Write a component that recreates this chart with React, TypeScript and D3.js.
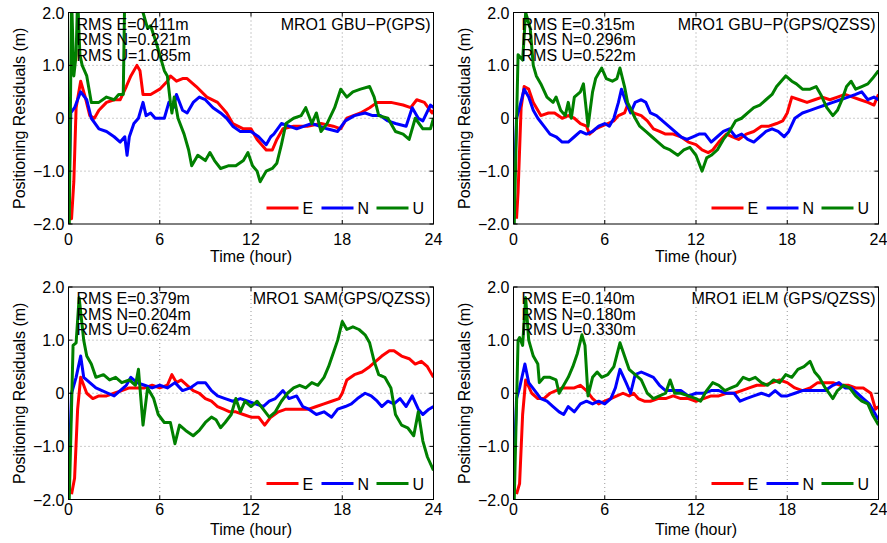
import React from 'react'
import * as d3 from 'd3'

type Pt = [number, number]

// axis ticks
const hourTicks = [0, 6, 12, 18, 24]
const residualTicks = [2, 1, 0, -1, -2]
const residualLabels = ['2.0', '1.0', '0', '\u22121.0', '\u22122.0']

const seriesNames = ['E', 'N', 'U']
const seriesColors = ['#ff0000', '#0000ff', '#008000']

// MRO1 GBU-P (GPS)
const gbuGpsE: Pt[] = [[0.1,-1.9],[0.2,-1.9],[0.35,-1.2],[0.5,0.2],[0.8,0.7],[1.1,0.4],[1.4,0.05],[1.7,0.0],[2.0,0.15],[2.5,0.3],[3.0,0.35],[3.4,0.35],[3.8,0.6],[4.1,0.8],[4.5,1.0],[4.7,0.9],[4.9,0.45],[5.4,0.45],[6.0,0.55],[6.5,0.7],[6.7,0.8],[7.1,0.7],[7.5,0.75],[7.8,0.75],[8.4,0.6],[9.1,0.4],[9.8,0.3],[10.4,0.1],[10.8,-0.1],[11.5,-0.2],[12.0,-0.2],[12.4,-0.4],[13.0,-0.6],[13.4,-0.6],[13.7,-0.4],[14.1,-0.2],[14.8,-0.15],[15.7,-0.15],[16.6,-0.1],[17.4,-0.15],[17.9,-0.2],[18.3,0.0],[19.2,0.1],[19.8,0.2],[20.3,0.3],[21.2,0.3],[22.0,0.25],[22.5,0.2],[22.9,0.35],[23.4,0.3],[23.9,0.1],[24,0.15]]
const gbuGpsN: Pt[] = [[0,-1.8],[0.15,0.1],[0.4,0.2],[0.8,0.5],[1.2,0.35],[1.5,0.0],[2.0,-0.2],[2.5,-0.25],[3.0,-0.35],[3.4,-0.45],[3.7,-0.35],[3.85,-0.7],[4.0,-0.35],[4.3,-0.1],[4.6,0.0],[4.9,0.3],[5.1,0.05],[5.4,0.1],[5.7,0.0],[6.0,0.0],[6.3,0.0],[6.6,0.3],[6.9,0.2],[7.1,0.45],[7.5,0.15],[7.8,0.1],[8.2,0.3],[8.6,0.4],[9.0,0.35],[9.5,0.2],[10.0,0.1],[10.4,0.0],[10.8,-0.15],[11.3,-0.25],[12.0,-0.25],[12.5,-0.35],[13.0,-0.5],[13.3,-0.35],[13.5,-0.3],[14.0,-0.1],[14.5,-0.15],[15.0,-0.2],[15.5,-0.15],[16.0,-0.1],[16.5,-0.15],[17.0,-0.2],[17.7,-0.25],[18.2,-0.05],[18.8,0.05],[19.5,0.1],[20.0,0.05],[20.5,0.05],[21.0,-0.05],[21.5,-0.1],[22.2,-0.15],[22.6,0.2],[23.0,0.0],[23.3,-0.05],[23.8,0.25],[24,0.2]]
const gbuGpsU: Pt[] = [[0.05,-2.0],[0.2,2.3],[0.35,0.8],[0.5,1.2],[0.6,2.3],[0.75,1.2],[0.9,1.0],[1.2,0.8],[1.5,0.3],[2.0,0.3],[2.5,0.4],[3.0,0.35],[3.3,0.45],[3.6,0.45],[3.7,2.4],[4.5,2.4],[4.9,2.0],[5.2,1.7],[5.4,1.75],[5.8,1.4],[6.0,1.2],[6.3,0.9],[6.5,0.8],[6.7,0.3],[6.8,0.1],[6.95,0.4],[7.2,0.0],[7.6,-0.3],[7.9,-0.6],[8.1,-0.9],[8.5,-0.7],[9.0,-0.8],[9.3,-0.65],[9.6,-0.8],[10.0,-0.95],[10.5,-0.9],[11.0,-0.9],[11.5,-0.8],[11.8,-0.65],[12.1,-0.9],[12.4,-1.0],[12.6,-1.2],[13.0,-1.0],[13.4,-0.95],[13.7,-0.85],[14.0,-0.5],[14.3,-0.1],[14.8,0.0],[15.3,0.05],[15.6,0.2],[16.0,-0.1],[16.3,0.1],[16.6,-0.25],[17.0,-0.1],[17.5,0.2],[17.9,0.55],[18.3,0.4],[18.7,0.5],[19.2,0.55],[19.8,0.6],[20.1,0.4],[20.4,0.05],[21.0,0.0],[21.5,-0.25],[22.0,-0.3],[22.4,-0.4],[22.8,0.0],[23.3,-0.2],[23.8,-0.2],[24,0.0]]

// MRO1 GBU-P (GPS/QZSS)
const gbuQzssE: Pt[] = [[0.2,-1.9],[0.3,-1.4],[0.5,0.2],[0.7,0.6],[1.0,0.55],[1.3,0.3],[1.8,0.05],[2.3,0.1],[2.7,0.1],[3.2,0.0],[3.6,0.05],[4.0,0.0],[4.4,-0.1],[4.8,-0.15],[5.0,-0.3],[5.4,-0.2],[5.8,-0.15],[6.2,-0.1],[6.6,-0.05],[6.9,0.05],[7.3,0.1],[7.5,0.25],[7.9,0.1],[8.4,0.05],[8.8,-0.05],[9.2,-0.2],[9.6,-0.25],[10.0,-0.3],[10.5,-0.3],[11.0,-0.35],[11.5,-0.45],[12.0,-0.5],[12.4,-0.6],[12.8,-0.65],[13.1,-0.6],[13.5,-0.45],[14.0,-0.3],[14.4,-0.35],[14.8,-0.4],[15.3,-0.3],[15.8,-0.25],[16.3,-0.15],[16.8,-0.15],[17.3,-0.1],[17.7,-0.05],[18.0,0.1],[18.3,0.4],[18.8,0.35],[19.3,0.3],[19.8,0.35],[20.3,0.4],[20.8,0.35],[21.3,0.4],[21.8,0.45],[22.3,0.4],[22.8,0.35],[23.3,0.3],[23.7,0.25],[24,0.45]]
const gbuQzssN: Pt[] = [[0,-1.7],[0.2,0.0],[0.4,0.2],[0.7,0.55],[1.0,0.4],[1.3,0.15],[1.6,0.0],[2.0,-0.15],[2.4,-0.3],[2.8,-0.35],[3.2,-0.45],[3.6,-0.45],[4.0,-0.35],[4.4,-0.25],[4.8,-0.3],[5.2,-0.25],[5.6,-0.15],[6.0,-0.1],[6.3,-0.15],[6.6,0.0],[6.9,0.3],[7.1,0.55],[7.4,0.3],[7.7,0.1],[8.0,0.3],[8.4,0.35],[8.7,0.3],[9.0,0.1],[9.4,0.05],[9.8,-0.05],[10.2,-0.15],[10.6,-0.25],[11.0,-0.35],[11.4,-0.4],[11.8,-0.35],[12.2,-0.3],[12.6,-0.3],[13.0,-0.45],[13.4,-0.35],[13.8,-0.25],[14.2,-0.2],[14.6,-0.35],[15.0,-0.3],[15.4,-0.4],[15.8,-0.45],[16.2,-0.35],[16.6,-0.25],[17.0,-0.2],[17.4,-0.25],[17.8,-0.35],[18.1,-0.25],[18.5,0.0],[19.0,0.1],[19.5,0.15],[20.0,0.2],[20.5,0.25],[21.0,0.3],[21.5,0.35],[22.0,0.4],[22.5,0.45],[22.9,0.5],[23.3,0.35],[23.7,0.4],[24,0.35]]
const gbuQzssU: Pt[] = [[0.05,-2.0],[0.3,1.2],[0.6,1.1],[0.8,2.0],[1.1,1.7],[1.3,1.0],[1.5,0.8],[1.8,0.65],[2.2,0.4],[2.6,0.3],[2.8,0.4],[3.1,0.15],[3.4,0.05],[3.6,0.3],[3.8,0.0],[4.0,0.4],[4.4,0.5],[4.6,0.65],[4.9,-0.15],[5.2,0.5],[5.4,0.75],[5.8,0.95],[6.1,0.75],[6.5,0.7],[6.8,0.75],[7.0,0.95],[7.3,0.6],[7.5,0.3],[8.0,0.0],[8.3,-0.15],[8.7,-0.25],[9.1,-0.35],[9.5,-0.45],[9.9,-0.55],[10.3,-0.6],[10.8,-0.7],[11.2,-0.6],[11.6,-0.55],[12.0,-0.7],[12.2,-0.85],[12.4,-1.0],[12.7,-0.75],[13.0,-0.7],[13.4,-0.6],[13.8,-0.4],[14.2,-0.25],[14.6,-0.05],[15.0,0.0],[15.4,0.1],[15.8,0.2],[16.2,0.25],[16.6,0.35],[17.0,0.45],[17.3,0.6],[17.6,0.7],[17.9,0.8],[18.3,0.7],[18.6,0.65],[19.0,0.55],[19.5,0.55],[19.9,0.6],[20.2,0.45],[20.6,0.2],[21.0,0.05],[21.3,0.15],[21.6,0.35],[21.9,0.6],[22.2,0.7],[22.5,0.55],[22.9,0.6],[23.3,0.65],[23.6,0.75],[24,0.9]]

// MRO1 SAM (GPS/QZSS)
const samE: Pt[] = [[0.2,-1.9],[0.4,-1.6],[0.6,-0.3],[0.8,0.3],[1.2,0.0],[1.6,-0.1],[2.0,-0.05],[2.5,-0.05],[3.0,0.0],[3.5,0.05],[4.0,0.1],[4.5,0.1],[5.0,0.1],[5.5,0.15],[6.0,0.1],[6.5,0.15],[6.8,0.35],[7.1,0.2],[7.4,0.25],[7.8,0.15],[8.2,0.05],[8.6,0.0],[9.0,-0.1],[9.4,-0.15],[9.8,-0.25],[10.2,-0.3],[10.6,-0.35],[11.0,-0.35],[11.5,-0.4],[12.0,-0.45],[12.5,-0.45],[12.9,-0.6],[13.3,-0.45],[13.8,-0.35],[14.3,-0.3],[14.8,-0.3],[15.3,-0.3],[15.8,-0.3],[16.3,-0.25],[16.8,-0.2],[17.3,-0.15],[17.8,-0.1],[18.0,0.0],[18.3,0.25],[18.8,0.35],[19.3,0.4],[19.8,0.5],[20.2,0.6],[20.6,0.7],[21.1,0.8],[21.4,0.8],[21.9,0.7],[22.4,0.65],[22.8,0.55],[23.2,0.6],[23.6,0.5],[24,0.3]]
const samN: Pt[] = [[0,-1.7],[0.2,0.0],[0.5,0.3],[0.8,0.7],[1.0,0.3],[1.4,0.2],[1.8,0.1],[2.2,0.05],[2.6,0.0],[3.0,-0.05],[3.4,0.05],[3.8,0.15],[4.1,0.3],[4.5,0.2],[5.0,0.15],[5.5,0.1],[6.0,0.15],[6.5,0.1],[7.0,0.2],[7.5,0.05],[8.0,0.1],[8.5,0.2],[9.0,0.2],[9.4,0.05],[9.8,-0.05],[10.3,-0.1],[10.8,-0.15],[11.3,-0.1],[11.8,-0.15],[12.3,-0.2],[12.8,-0.25],[13.2,-0.15],[13.6,-0.1],[14.1,0.05],[14.5,-0.1],[15.0,-0.05],[15.4,-0.25],[15.8,-0.3],[16.3,-0.4],[16.8,-0.35],[17.3,-0.45],[17.7,-0.3],[18.2,-0.25],[18.6,-0.2],[19.0,-0.1],[19.5,0.0],[19.9,-0.05],[20.3,-0.15],[20.6,-0.25],[21.0,-0.15],[21.4,-0.2],[21.8,-0.1],[22.2,-0.25],[22.6,-0.05],[23.0,-0.3],[23.3,-0.4],[23.7,-0.3],[24,-0.25]]
const samU: Pt[] = [[0.05,-2.0],[0.3,0.9],[0.5,0.95],[0.7,1.8],[1.0,1.0],[1.2,0.7],[1.5,0.55],[1.8,0.3],[2.3,0.35],[2.7,0.25],[3.1,0.3],[3.5,0.2],[4.0,0.25],[4.4,0.15],[4.6,0.45],[4.9,-0.6],[5.2,0.1],[5.6,-0.1],[5.9,-0.4],[6.3,-0.55],[6.7,-0.55],[7.0,-0.95],[7.3,-0.6],[7.7,-0.7],[8.2,-0.8],[8.6,-0.7],[9.0,-0.55],[9.4,-0.45],[9.7,-0.5],[10.0,-0.65],[10.3,-0.55],[10.7,-0.4],[11.0,-0.1],[11.3,-0.35],[11.6,-0.15],[12.0,-0.25],[12.4,-0.15],[12.8,-0.3],[13.2,-0.45],[13.6,-0.35],[14.0,-0.15],[14.4,0.0],[14.8,0.1],[15.2,0.15],[15.6,0.1],[16.0,0.2],[16.4,0.15],[16.8,0.3],[17.1,0.5],[17.4,0.75],[17.7,1.0],[18.0,1.35],[18.3,1.2],[18.7,1.25],[19.1,1.2],[19.5,1.1],[19.8,0.95],[20.1,0.6],[20.4,0.35],[20.8,0.3],[21.2,0.1],[21.5,-0.4],[21.9,-0.6],[22.3,-0.65],[22.7,-0.8],[23.0,-0.35],[23.3,-0.9],[23.6,-1.2],[24,-1.45]]

// MRO1 iELM (GPS/QZSS)
const ielmE: Pt[] = [[0.2,-1.9],[0.4,-1.7],[0.6,-0.4],[0.8,0.25],[1.2,0.0],[1.6,-0.1],[2.0,-0.1],[2.4,0.0],[2.8,0.05],[3.2,0.1],[3.6,0.1],[4.0,0.1],[4.4,0.15],[4.8,0.05],[5.2,-0.1],[5.6,-0.2],[6.0,-0.15],[6.4,-0.1],[6.8,-0.05],[7.2,0.0],[7.6,-0.05],[7.9,0.0],[8.2,-0.1],[8.6,-0.15],[9.0,-0.15],[9.5,-0.1],[10.0,-0.1],[10.5,-0.05],[11.0,-0.1],[11.5,-0.1],[12.0,-0.15],[12.5,-0.1],[13.0,-0.05],[13.5,-0.05],[14.0,0.0],[14.5,0.0],[15.0,0.05],[15.5,0.1],[16.0,0.15],[16.5,0.15],[17.0,0.2],[17.5,0.25],[18.0,0.2],[18.5,0.1],[19.0,0.05],[19.5,0.1],[20.0,0.2],[20.5,0.2],[21.0,0.2],[21.5,0.15],[22.0,0.15],[22.5,0.1],[23.0,0.1],[23.5,0.0],[23.8,-0.3],[24,-0.25]]
const ielmN: Pt[] = [[0,-1.7],[0.2,-0.1],[0.4,0.1],[0.75,0.55],[1.0,0.2],[1.4,0.05],[1.8,-0.1],[2.2,-0.15],[2.6,-0.25],[3.0,-0.35],[3.3,-0.4],[3.6,-0.25],[4.0,-0.35],[4.4,-0.2],[4.8,-0.15],[5.2,-0.2],[5.6,-0.15],[6.0,-0.2],[6.4,-0.1],[6.7,0.1],[7.0,0.45],[7.4,0.2],[7.7,0.0],[8.0,0.35],[8.4,0.4],[8.8,0.35],[9.2,0.3],[9.6,0.15],[10.0,0.05],[10.5,0.05],[11.0,0.05],[11.5,-0.05],[12.0,0.0],[12.5,0.0],[13.0,0.05],[13.5,0.05],[14.0,0.0],[14.5,0.0],[14.9,-0.15],[15.3,-0.1],[15.8,-0.05],[16.3,0.0],[16.8,-0.05],[17.2,0.05],[17.6,-0.05],[18.0,-0.05],[18.5,0.0],[19.0,0.05],[19.5,0.05],[20.0,0.05],[20.5,0.05],[21.0,0.15],[21.4,0.2],[21.8,0.1],[22.2,0.1],[22.6,0.0],[23.0,-0.1],[23.4,-0.2],[23.7,-0.35],[24,-0.5]]
const ielmU: Pt[] = [[0.05,-2.0],[0.3,1.0],[0.4,1.05],[0.6,0.9],[0.8,1.8],[1.0,1.0],[1.3,0.7],[1.6,0.55],[1.7,0.2],[2.0,0.3],[2.4,0.3],[2.8,0.25],[3.0,0.0],[3.3,0.15],[3.6,0.3],[3.9,0.5],[4.2,0.75],[4.5,1.1],[4.7,0.9],[4.9,-0.05],[5.2,0.3],[5.5,0.4],[5.8,0.3],[6.2,0.35],[6.6,0.5],[7.0,0.95],[7.3,0.7],[7.6,0.45],[8.0,0.35],[8.4,0.25],[8.8,0.0],[9.2,-0.1],[9.6,-0.05],[10.0,0.0],[10.3,0.25],[10.6,0.0],[11.0,0.0],[11.5,-0.05],[12.0,-0.1],[12.3,-0.15],[12.7,0.05],[13.1,0.2],[13.5,0.15],[13.9,0.05],[14.3,0.1],[14.7,0.15],[15.1,0.3],[15.5,0.25],[15.9,0.3],[16.3,0.2],[16.7,0.15],[17.1,0.25],[17.5,0.2],[17.9,0.35],[18.3,0.3],[18.7,0.45],[19.1,0.5],[19.5,0.6],[19.8,0.4],[20.1,0.3],[20.5,0.1],[21.0,-0.1],[21.3,0.05],[21.7,0.15],[22.1,0.1],[22.5,-0.05],[22.9,-0.15],[23.3,-0.2],[23.6,-0.4],[24,-0.6]]

const panelTitles = ['MRO1 GBU\u2212P(GPS)', 'MRO1 GBU\u2212P(GPS/QZSS)', 'MRO1 SAM(GPS/QZSS)', 'MRO1 iELM (GPS/QZSS)']
const rmsValues = [
  ['0.411', '0.221', '1.085'],
  ['0.315', '0.296', '0.522'],
  ['0.379', '0.204', '0.624'],
  ['0.140', '0.180', '0.330'],
]
const panelSeries: Pt[][][] = [
  [gbuGpsE, gbuGpsN, gbuGpsU],
  [gbuQzssE, gbuQzssN, gbuQzssU],
  [samE, samN, samU],
  [ielmE, ielmN, ielmU],
]

// plot frames: left, right, top, bottom, tick label baseline, x title baseline
const frames = [
  { l: 68.5, r: 433.5, t: 12.5, b: 224, tickY: 245, titleY: 262 },
  { l: 513.5, r: 878.5, t: 12.5, b: 224, tickY: 245, titleY: 262 },
  { l: 68.5, r: 433.5, t: 287, b: 499.5, tickY: 515, titleY: 535 },
  { l: 513.5, r: 878.5, t: 287, b: 499.5, tickY: 515, titleY: 535 },
]

const FONT = 'Liberation Sans, Arial, Helvetica, sans-serif'

function Panel({ idx }: { idx: number }) {
  const f = frames[idx]
  const x = d3.scaleLinear().domain([0, 24]).range([f.l, f.r])
  const y = d3.scaleLinear().domain([-2, 2]).range([f.b, f.t])
  const line = d3.line<Pt>().x(d => x(d[0])).y(d => y(d[1]))
  const clipId = `clip${idx}`
  const legendY = f.b - 16
  const legendStarts = [f.l + 198, f.l + 253, f.l + 308]

  return (
    <g fontFamily={FONT} fontSize={16} fill="#000">
      <defs>
        <clipPath id={clipId}>
          <rect x={f.l} y={f.t} width={f.r - f.l} height={f.b - f.t} />
        </clipPath>
      </defs>
      {/* grid */}
      {hourTicks.slice(1, -1).map(h => (
        <line key={'gx' + h} x1={x(h)} x2={x(h)} y1={f.t} y2={f.b} stroke="#999" strokeDasharray="1,3" />
      ))}
      {residualTicks.slice(1, -1).map(v => (
        <line key={'gy' + v} x1={f.l} x2={f.r} y1={y(v)} y2={y(v)} stroke="#999" strokeDasharray="1,3" />
      ))}
      {/* series */}
      <g clipPath={`url(#${clipId})`}>
        {panelSeries[idx].map((s, i) => (
          <path key={i} d={line(s) || ''} fill="none" stroke={seriesColors[i]} strokeWidth={3} strokeLinejoin="round" />
        ))}
      </g>
      {/* box + ticks */}
      <rect x={f.l} y={f.t} width={f.r - f.l} height={f.b - f.t} fill="none" stroke="#000" strokeWidth={1} />
      {hourTicks.map(h => (
        <g key={'tx' + h}>
          <line x1={x(h)} x2={x(h)} y1={f.b} y2={f.b - 4} stroke="#000" />
          <line x1={x(h)} x2={x(h)} y1={f.t} y2={f.t + 4} stroke="#000" />
          <text x={x(h)} y={f.tickY} textAnchor="middle">{h}</text>
        </g>
      ))}
      {residualTicks.map((v, i) => (
        <g key={'ty' + v}>
          <line x1={f.l} x2={f.l + 4} y1={y(v)} y2={y(v)} stroke="#000" />
          <line x1={f.r} x2={f.r - 4} y1={y(v)} y2={y(v)} stroke="#000" />
          <text x={f.l - 4} y={y(v) + 6} textAnchor="end">{residualLabels[i]}</text>
        </g>
      ))}
      {/* labels */}
      <text x={(f.l + f.r) / 2} y={f.titleY} textAnchor="middle">Time (hour)</text>
      <text transform={`translate(${f.l - 44},${(f.t + f.b) / 2}) rotate(-90)`} textAnchor="middle">Positioning Residuals (m)</text>
      <text x={f.r - 3} y={f.t + 17} textAnchor="end">{panelTitles[idx]}</text>
      {seriesNames.map((n, i) => (
        <text key={'rms' + n} x={f.l + 8} y={f.t + 17 + i * 15.5}>{`RMS ${n}=${rmsValues[idx][i]}m`}</text>
      ))}
      {/* legend */}
      {seriesNames.map((n, i) => (
        <g key={'lg' + n}>
          <line x1={legendStarts[i]} x2={legendStarts[i] + 32} y1={legendY} y2={legendY} stroke={seriesColors[i]} strokeWidth={3} />
          <text x={legendStarts[i] + 36} y={legendY + 6}>{n}</text>
        </g>
      ))}
    </g>
  )
}

export default function App() {
  return (
    <div>
      <style>{'body{margin:0}'}</style>
      <svg width={887} height={543} style={{ display: 'block', background: '#fff' }}>
        {frames.map((_, i) => <Panel key={i} idx={i} />)}
      </svg>
    </div>
  )
}
